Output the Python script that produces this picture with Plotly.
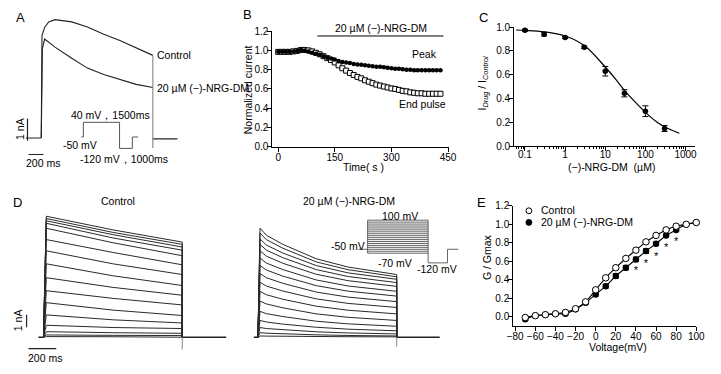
import plotly.graph_objects as go

W, H = 721, 374
FONT = "Liberation Sans, Arial, Helvetica, sans-serif"

# ======================= DATA =======================
# --- Panel A: representative currents (time ms, current nA) ---
a_ctrl_t = [0, 10, 45, 100, 185, 410, 620, 840, 1065, 1275, 1500]
a_ctrl_i = [0, 4.6, 4.95, 5.2, 5.3, 5.2, 4.97, 4.65, 4.36, 4.04, 3.7]
a_drug_t = [0, 15, 45, 185, 410, 620, 840, 1065, 1275, 1500]
a_drug_i = [0, 4.0, 4.43, 4.07, 3.57, 3.13, 2.84, 2.6, 2.4, 2.26]
a_base_pre = [-210, 0]
a_base_post = [1500, 1830]
a_tail_i = -0.45
a_prot_dur = [80, 1500, 530, 240]
a_prot_mv = [-50, 40, -120, -50]

# --- Panel B: time course (s, normalized current) ---
b_time = [0, 10, 20, 30, 40, 50, 60, 70, 80, 90, 100, 110, 120, 130, 140, 150,
          160, 170, 180, 190, 200, 210, 220, 230, 240, 250, 260, 270, 280, 290,
          300, 310, 320, 330, 340, 350, 360, 370, 380, 390, 400, 410, 420, 430]
b_peak = [0.985, 0.985, 0.985, 0.985, 0.99, 0.995, 1.005, 1.0, 0.99, 0.975,
          0.965, 0.955, 0.94, 0.925, 0.915, 0.905, 0.89, 0.88, 0.875, 0.87,
          0.86, 0.855, 0.85, 0.845, 0.84, 0.835, 0.83, 0.83, 0.825, 0.82,
          0.815, 0.81, 0.81, 0.805, 0.80, 0.80, 0.795, 0.795, 0.795, 0.795,
          0.795, 0.795, 0.795, 0.795]
b_end = [0.985, 0.985, 0.985, 0.985, 0.99, 0.995, 1.005, 1.005, 1.0, 0.99,
         0.975, 0.96, 0.94, 0.92, 0.9, 0.875, 0.845, 0.815, 0.79, 0.765,
         0.745, 0.725, 0.71, 0.69, 0.675, 0.66, 0.645, 0.635, 0.625, 0.615,
         0.605, 0.6, 0.59, 0.58, 0.575, 0.565, 0.56, 0.555, 0.555, 0.55,
         0.55, 0.55, 0.55, 0.55]
b_drug_on = [104, 438]
b_drug_level = 1.15

# --- Panel C: concentration-response ---
c_conc = [0.1, 0.3, 1, 3, 10, 30, 100, 300]
c_ratio = [0.973, 0.94, 0.913, 0.83, 0.63, 0.445, 0.295, 0.15]
c_err = [0.008, 0.015, 0.008, 0.01, 0.04, 0.03, 0.045, 0.025]
c_fit_conc = [0.06, 0.1, 0.3, 1, 3, 10, 20, 30, 60, 100, 200, 300, 700]
c_fit_ratio = [0.975, 0.972, 0.96, 0.925, 0.845, 0.665, 0.545, 0.47, 0.36,
               0.285, 0.2, 0.165, 0.11]

# --- Panel D: current families (nA) ---
d_ctrl_t = [0, 20, 500, 1000]
d_ctrl_pk = [9.59, 9.41, 9.23, 9.03, 8.64, 7.74, 6.85, 5.82, 4.72, 3.69, 2.74, 1.77, 0.95, 0.44, 0.18, 0.05]
d_ctrl_mid = [8.51, 8.31, 8.13, 7.87, 7.49, 6.72, 5.82, 4.87, 3.95, 3.08, 2.15, 1.38, 0.77, 0.36, 0.15, 0.04]
d_ctrl_end = [7.54, 7.36, 7.15, 6.90, 6.46, 5.74, 4.97, 4.10, 3.33, 2.56, 1.72, 1.13, 0.69, 0.31, 0.13, 0.03]
d_drug_t = [0, 15, 60, 180, 420, 650, 1000]
d_drug_pk = [8.64, 8.26, 7.79, 7.36, 6.85, 6.28, 5.69, 5.05, 4.36, 3.64, 2.87, 2.05, 1.33, 0.77, 0.36, 0.10]
d_drug_60 = [8.09, 7.74, 7.31, 6.91, 6.43, 5.88, 5.33, 4.72, 4.06, 3.37, 2.64, 1.87, 1.21, 0.69, 0.32, 0.09]
d_drug_180 = [7.36, 7.05, 6.67, 6.30, 5.86, 5.36, 4.84, 4.27, 3.66, 3.01, 2.33, 1.64, 1.04, 0.59, 0.27, 0.07]
d_drug_420 = [6.22, 5.97, 5.68, 5.36, 4.99, 4.54, 4.09, 3.58, 3.04, 2.46, 1.85, 1.27, 0.79, 0.43, 0.19, 0.05]
d_drug_650 = [5.56, 5.35, 5.10, 4.81, 4.48, 4.06, 3.65, 3.18, 2.68, 2.14, 1.58, 1.06, 0.64, 0.34, 0.14, 0.04]
d_drug_end = [4.97, 4.79, 4.59, 4.33, 4.03, 3.64, 3.26, 2.82, 2.36, 1.85, 1.33, 0.87, 0.51, 0.26, 0.10, 0.03]
d_ctrl_base = [[-37, 0], [1000, 1317]]
d_drug_base = [[-30, 0], [1000, 1310]]
d_ctrl_tail = -0.98
d_drug_tail = -0.75
d_prot_dur = [150, 1000, 320, 180]
d_prot_hold = -50
d_prot_tail = -120
d_step_mv = [-70, -60, -50, -40, -30, -20, -10, 0, 10, 20, 30, 40, 50, 60, 70, 80, 90, 100]

# --- Panel E: activation curves ---
e_v = [-70, -60, -50, -40, -30, -20, -10, 0, 10, 20, 30, 40, 50, 60, 70, 80, 90, 100]
e_ctrl = [-0.01, 0.01, 0.02, 0.03, 0.045, 0.085, 0.16, 0.29, 0.42, 0.53, 0.63, 0.72, 0.81, 0.88, 0.94, 0.98, 1.0, 1.02]
e_ctrl_err = [0.005, 0.005, 0.005, 0.005, 0.01, 0.01, 0.01, 0.015, 0.02, 0.02, 0.02, 0.02, 0.015, 0.01, 0.01, 0.01, 0.005, 0.005]
e_drug = [-0.03, 0.01, 0.02, 0.03, 0.03, 0.08, 0.15, 0.24, 0.33, 0.44, 0.53, 0.62, 0.71, 0.79, 0.88, 0.94, 1.0, 1.02]
e_drug_err = [0.01, 0.005, 0.005, 0.005, 0.01, 0.01, 0.015, 0.015, 0.02, 0.025, 0.025, 0.025, 0.025, 0.02, 0.015, 0.01, 0.005, 0.005]
e_star_v = [40, 50, 60, 70, 80]
e_star_y = [0.49, 0.57, 0.64, 0.74, 0.81]

# ======================= HELPERS =======================
def hax(p0, p1, p_ref, v_ref, ppu):
    return [p0 / W, p1 / W], [v_ref + (p0 - p_ref) / ppu, v_ref + (p1 - p_ref) / ppu]

def vax(top, bot, p_ref, v_ref, ppu):
    return [1 - bot / H, 1 - top / H], [v_ref - (bot - p_ref) / ppu, v_ref + (p_ref - top) / ppu]

def steps(durs, levels):
    xs, ys, t = [], [], 0
    for d, v in zip(durs, levels):
        xs += [t, t + d]
        ys += [v, v]
        t += d
    return xs, ys

annots = []
def txt(s, px, py, size=10.5, xa="center", angle=0):
    annots.append(dict(text=s, x=px / W, y=1 - py / H, xref="paper", yref="paper",
                       showarrow=False, xanchor=xa, yanchor="middle", textangle=angle,
                       font=dict(size=size, family=FONT, color="black")))

fig = go.Figure()

def line(x, y, ax, color="#222", width=1.1):
    fig.add_trace(go.Scatter(x=x, y=y, xaxis="x" + ax, yaxis="y" + ax, mode="lines",
                             line=dict(color=color, width=width), showlegend=False,
                             hoverinfo="skip", cliponaxis=False))

# ---------- Panel A ----------
line(a_ctrl_t, a_ctrl_i, "")
line(a_drug_t, a_drug_i, "")
line(a_base_pre, [0, 0], "")
line(a_base_post, [-0.04, -0.04], "")
line([a_ctrl_t[-1], a_ctrl_t[-1]], [a_ctrl_i[-1], a_tail_i], "", color="#777", width=1)
# scale bars (1 nA, 200 ms)
line([-185, -185], [-0.13, -0.13 + 1], "", color="#222", width=1.2)
line([-170, -170 + 200], [-0.74, -0.74], "", color="#222", width=1.2)
px_, py_ = steps(a_prot_dur, a_prot_mv)
line(px_, py_, "2", color="#555", width=1)

# ---------- Panel B ----------
fig.add_trace(go.Scatter(x=b_time, y=b_end, xaxis="x3", yaxis="y3", mode="markers",
                         marker=dict(symbol="square", size=5, color="white",
                                     line=dict(color="black", width=1)),
                         showlegend=False, cliponaxis=False))
fig.add_trace(go.Scatter(x=b_time, y=b_peak, xaxis="x3", yaxis="y3", mode="markers",
                         marker=dict(symbol="circle", size=4.5, color="black"),
                         showlegend=False, cliponaxis=False))
line(b_drug_on, [b_drug_level, b_drug_level], "3", color="black", width=1)

# ---------- Panel C ----------
fig.add_trace(go.Scatter(x=c_fit_conc, y=c_fit_ratio, xaxis="x4", yaxis="y4", mode="lines",
                         line=dict(color="black", width=1.2, shape="spline"),
                         showlegend=False, cliponaxis=False))
fig.add_trace(go.Scatter(x=c_conc, y=c_ratio, xaxis="x4", yaxis="y4", mode="markers",
                         marker=dict(size=5.5, color="black"),
                         error_y=dict(type="data", array=c_err, color="black",
                                      thickness=1, width=3),
                         showlegend=False, cliponaxis=False))

# ---------- Panel D ----------
for i in range(len(d_ctrl_pk)):
    line(d_ctrl_t + [d_ctrl_t[-1]], [0, d_ctrl_pk[i], d_ctrl_mid[i], d_ctrl_end[i], 0], "5",
         color="#2a2a2a", width=1)
    line(d_drug_t + [d_drug_t[-1]],
         [0, d_drug_pk[i], d_drug_60[i], d_drug_180[i], d_drug_420[i], d_drug_650[i],
          d_drug_end[i], 0], "6", color="#2a2a2a", width=1)
for seg in d_ctrl_base:
    line(seg, [0, 0], "5", width=1.3)
for seg in d_drug_base:
    line(seg, [0, 0], "6", width=1.3)
line([d_ctrl_t[-1], d_ctrl_t[-1]], [0, d_ctrl_tail], "5", color="#888", width=1)
line([d_drug_t[-1], d_drug_t[-1]], [0, d_drug_tail], "6", color="#888", width=1)
# scale bars
line([-122, -122], [0.79, 0.79 + 1], "5", width=1.2)
line([-108, -108 + 200], [-0.9, -0.9], "5", width=1.2)
# protocol
t0 = d_prot_dur[0]
t1 = t0 + d_prot_dur[1]
t2 = t1 + d_prot_dur[2]
t3 = t2 + d_prot_dur[3]
xs, ys = [0, t0, None], [d_prot_hold, d_prot_hold, None]
for v in d_step_mv:
    xs += [t0, t1, None]
    ys += [v, v, None]
xs += [t0, t0, None, t1, t1, t2, t2, t3]
ys += [min(d_step_mv), max(d_step_mv), None, max(d_step_mv), d_prot_tail, d_prot_tail,
       d_prot_hold, d_prot_hold]
line(xs, ys, "7", color="#555", width=0.9)

# ---------- Panel E ----------
fig.add_trace(go.Scatter(x=e_v, y=e_ctrl, xaxis="x8", yaxis="y8", mode="lines",
                         line=dict(color="black", width=1.1, shape="spline"),
                         showlegend=False, cliponaxis=False))
fig.add_trace(go.Scatter(x=e_v, y=e_drug, xaxis="x8", yaxis="y8", mode="lines",
                         line=dict(color="black", width=1.1, shape="spline"),
                         showlegend=False, cliponaxis=False))
fig.add_trace(go.Scatter(x=e_v, y=e_drug, xaxis="x8", yaxis="y8", mode="markers",
                         marker=dict(size=6.5, color="black"),
                         error_y=dict(type="data", array=e_drug_err, color="black",
                                      thickness=1, width=3),
                         showlegend=False, cliponaxis=False))
fig.add_trace(go.Scatter(x=e_v, y=e_ctrl, xaxis="x8", yaxis="y8", mode="markers",
                         marker=dict(size=6.5, color="white", line=dict(color="black", width=1)),
                         error_y=dict(type="data", array=e_ctrl_err, color="black",
                                      thickness=1, width=3),
                         showlegend=False, cliponaxis=False))
fig.add_trace(go.Scatter(x=e_star_v, y=e_star_y, xaxis="x8", yaxis="y8", mode="text",
                         text=["*"] * len(e_star_v),
                         textfont=dict(size=11, family=FONT, color="black"),
                         showlegend=False, cliponaxis=False))

# ======================= AXES =======================
hidden = dict(visible=False, showgrid=False, zeroline=False)
def vis(**kw):
    d = dict(showline=True, linecolor="black", linewidth=1, ticks="outside", ticklen=4,
             tickwidth=1, tickcolor="black", showgrid=False, zeroline=False,
             ticklabelstandoff=-3, ticklabeloverflow="allow",
             tickfont=dict(size=10, family=FONT, color="black"))
    d.update(kw)
    return d

lay = {}
dx, rx = hax(20, 180, 36, 0, 1 / 13.16)
dy, ry = vax(8, 172, 137, 0, 23)
lay["xaxis"] = dict(hidden, domain=dx, range=rx, anchor="y")
lay["yaxis"] = dict(hidden, domain=dy, range=ry, anchor="x")
dx, rx = hax(75, 140, 77, 0, 37 / 1500)
dy, ry = vax(110, 160, 136, -50, 0.168)
lay["xaxis2"] = dict(hidden, domain=dx, range=rx, anchor="y2")
lay["yaxis2"] = dict(hidden, domain=dy, range=ry, anchor="x2")

dx, rx = hax(272, 452, 278, 0, 57.8 / 150)
dy, ry = vax(26.5, 146, 146, 0, 99.2)
lay["xaxis3"] = vis(domain=dx, range=rx, anchor="y3", tickvals=[0, 150, 300, 450])
lay["yaxis3"] = vis(domain=dy, range=[0, ry[1]], anchor="x3",
                    tickmode="linear", tick0=0, dtick=0.2, tickformat=".1f")

D = 41.0
lay["xaxis4"] = vis(type="log", domain=[519 / W, 704 / W], range=[-1 - 11 / D, -1 + 174 / D],
                    anchor="y4", tickvals=[0.1, 1, 10, 100, 1000],
                    ticktext=["0.1", "1", "10", "100", "1000"], ticklabelstandoff=-5,
                    minor=dict(ticks="outside", ticklen=2, tickcolor="black", dtick="D1",
                               showgrid=False))
dy, ry = vax(22.5, 145.7, 145.7, 0, 123)
lay["yaxis4"] = vis(domain=dy, range=[0, ry[1]], anchor="x4",
                    tickmode="linear", tick0=0, dtick=0.2, tickformat=".1f")

dy, ry = vax(205, 372, 342.3, 0, 13)
dx, rx = hax(10, 235, 38.3, 0, 0.1417)
lay["xaxis5"] = dict(hidden, domain=dx, range=rx, anchor="y5")
lay["yaxis5"] = dict(hidden, domain=dy, range=ry, anchor="x5")
dx, rx = hax(240, 465, 257.3, 0, 0.1417)
lay["xaxis6"] = dict(hidden, domain=dx, range=rx, anchor="y6")
lay["yaxis6"] = dict(hidden, domain=dy, range=ry, anchor="x6")
dx, rx = hax(355, 470, 360, 0, 102 / 1650)
dy2, ry2 = vax(212, 272, 251.7, -50, 0.2)
lay["xaxis7"] = dict(hidden, domain=dx, range=rx, anchor="y7")
lay["yaxis7"] = dict(hidden, domain=dy2, range=ry2, anchor="x7")

dx, rx = hax(518, 705, 520, -80, 187 / 182)
dy, ry = vax(206.8, 331, 321, 0, 95)
lay["xaxis8"] = vis(domain=dx, range=rx, anchor="y8",
                    tickvals=[-80, -60, -40, -20, 0, 20, 40, 60, 80, 100])
lay["yaxis8"] = vis(domain=dy, range=ry, anchor="x8",
                    tickvals=[0, 0.2, 0.4, 0.6, 0.8, 1.0, 1.2], tickformat=".1f")

# ======================= TEXT =======================
# A
txt("A", 15, 13, size=13)
txt("Control", 152, 52, xa="left")
txt("20 µM (−)-NRG-DM", 152, 85, xa="left")
txt("40 mV，1500ms", 107, 113)
txt("-50 mV", 76, 144)
txt("-120 mV，1000ms", 121, 159)
txt("1 nA", 15, 128, angle=-90)
txt("200 ms", 38, 163)
# B
txt("B", 247, 10, size=13)
txt("20 µM (−)-NRG-DM", 383, 24)
txt("Peak", 427, 50)
txt("End pulse", 425, 102)
txt("Normalized current", 248, 87, angle=-90)
txt("Time( s )", 365, 167)
# C
txt("C", 488, 13, size=13)
txt("I<sub><i>Drug</i></sub> / I<sub><i>Control</i></sub>", 487, 80, angle=-90)
txt("(−)-NRG-DM  (µM)", 618, 166.5)
# D
txt("D", 12, 203, size=13)
txt("Control", 114, 202)
txt("20 µM (−)-NRG-DM", 350, 202)
txt("1 nA", 13, 325, angle=-90)
txt("200 ms", 40, 364)
txt("100 mV", 402, 217)
txt("-50 mV", 349, 248)
txt("-70 mV", 397, 266)
txt("-120 mV", 440, 272)
# E
txt("E", 486, 203, size=13)
txt("Control", 544, 211, xa="left")
txt("20 µM (−)-NRG-DM", 544, 224, xa="left")
txt("G / Gmax", 492, 260, angle=-90)
txt("Voltage(mV)", 625, 352)

def circ(px, py, r, fill):
    return dict(type="circle", xref="paper", yref="paper",
                x0=(px - r) / W, x1=(px + r) / W, y0=1 - (py + r) / H, y1=1 - (py - r) / H,
                line=dict(color="black", width=1), fillcolor=fill)

shapes = [circ(534, 212, 3, "white"), circ(534, 224, 3, "black")]

fig.update_layout(width=W, height=H, margin=dict(l=0, r=0, t=0, b=0),
                  paper_bgcolor="white", plot_bgcolor="rgba(0,0,0,0)",
                  font=dict(family=FONT, color="black", size=10.5),
                  annotations=annots, shapes=shapes, showlegend=False, **lay)

fig.write_html("out.html", config={"displayModeBar": False},
               post_script="document.body.style.margin='0px';document.body.style.overflow='hidden';")
